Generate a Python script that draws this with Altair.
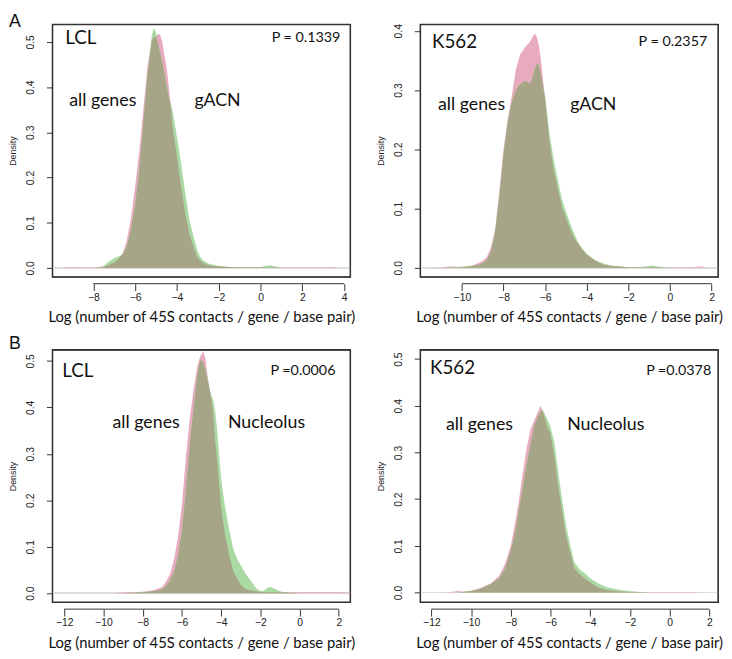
import altair as alt
import pandas as pd

# ---------------- data ----------------
A_LCL_X = [-9.6, -9.0, -8.5, -8.0, -7.6, -7.3, -7.0, -6.8, -6.6, -6.4, -6.2, -6.0, -5.8, -5.6, -5.4,
           -5.2, -5.1, -5.0, -4.9, -4.8, -4.7, -4.6, -4.5, -4.4, -4.3, -4.2, -4.0, -3.8, -3.6, -3.4,
           -3.2, -3.0, -2.8, -2.5, -2.0, -1.5, -1.0, -0.5, 0.0, 0.3, 0.5, 0.7, 1.0, 1.5, 2.0, 2.5,
           3.0, 3.5, 3.8]
A_LCL_ALL = [0.0, 0.002, 0.001, 0.001, 0.003, 0.006, 0.012, 0.02, 0.032, 0.06, 0.11, 0.18, 0.26, 0.355,
             0.45, 0.505, 0.51, 0.512, 0.518, 0.515, 0.50, 0.47, 0.445, 0.405, 0.36, 0.31, 0.245, 0.18,
             0.12, 0.075, 0.045, 0.022, 0.012, 0.006, 0.003, 0.002, 0.002, 0.001, 0.001, 0.001, 0.001,
             0.001, 0.001, 0.001, 0.001, 0.001, 0.001, 0.002, 0.0]
A_LCL_GACN = [0.0, 0.0, 0.0, 0.0, 0.001, 0.012, 0.022, 0.025, 0.03, 0.048, 0.085, 0.14, 0.22, 0.325,
              0.43, 0.515, 0.531, 0.52, 0.495, 0.475, 0.455, 0.43, 0.405, 0.38, 0.365, 0.345, 0.29,
              0.23, 0.165, 0.105, 0.068, 0.035, 0.018, 0.01, 0.004, 0.002, 0.001, 0.001, 0.002, 0.005,
              0.006, 0.003, 0.0, 0.0, 0.0, 0.0, 0.0, 0.0, 0.0]

A_K562_X = [-11.6, -11.0, -10.5, -10.0, -9.5, -9.2, -9.0, -8.8, -8.6, -8.4, -8.2, -8.0, -7.8, -7.6,
            -7.4, -7.2, -7.0, -6.9, -6.8, -6.7, -6.6, -6.5, -6.4, -6.3, -6.2, -6.0, -5.8, -5.6, -5.4,
            -5.2, -5.0, -4.8, -4.6, -4.4, -4.2, -4.0, -3.6, -3.2, -2.8, -2.4, -2.0, -1.5, -1.2, -0.9,
            -0.6, 0.0, 0.5, 1.0, 1.5, 1.8]
A_K562_ALL = [0.0, 0.001, 0.002, 0.001, 0.004, 0.008, 0.012, 0.018, 0.035, 0.065, 0.13, 0.20, 0.25,
              0.29, 0.335, 0.36, 0.37, 0.375, 0.378, 0.383, 0.39, 0.395, 0.39, 0.375, 0.35, 0.285,
              0.215, 0.168, 0.135, 0.104, 0.085, 0.065, 0.05, 0.04, 0.03, 0.022, 0.012, 0.005, 0.003,
              0.002, 0.001, 0.001, 0.001, 0.001, 0.001, 0.001, 0.001, 0.001, 0.002, 0.0]
A_K562_GACN = [0.0, 0.0, 0.001, 0.002, 0.003, 0.005, 0.008, 0.013, 0.028, 0.06, 0.12, 0.19, 0.245,
               0.28, 0.30, 0.31, 0.315, 0.315, 0.312, 0.312, 0.322, 0.335, 0.345, 0.342, 0.325, 0.29,
               0.23, 0.185, 0.15, 0.117, 0.095, 0.075, 0.058, 0.042, 0.032, 0.024, 0.013, 0.007,
               0.004, 0.002, 0.001, 0.001, 0.002, 0.004, 0.002, 0.0, 0.0, 0.0, 0.0, 0.0]

B_LCL_X = [-9.5, -9.0, -8.5, -8.0, -7.5, -7.2, -7.0, -6.8, -6.6, -6.4, -6.2, -6.0, -5.8, -5.6, -5.4,
           -5.2, -5.1, -5.0, -4.9, -4.8, -4.7, -4.6, -4.5, -4.4, -4.3, -4.2, -4.0, -3.8, -3.6, -3.4,
           -3.2, -3.0, -2.8, -2.6, -2.4, -2.2, -2.0, -1.8, -1.6, -1.5, -1.4, -1.2, -1.0, -0.8, -0.5,
           0.0, 0.5, 1.0, 1.5, 2.0, 2.5]
B_LCL_ALL = [0.0, 0.002, 0.002, 0.003, 0.006, 0.01, 0.014, 0.025, 0.042, 0.072, 0.12, 0.19, 0.29,
             0.375, 0.44, 0.49, 0.505, 0.515, 0.52, 0.505, 0.47, 0.445, 0.42, 0.385, 0.326, 0.285,
             0.186, 0.125, 0.085, 0.05, 0.032, 0.018, 0.01, 0.007, 0.005, 0.004, 0.003, 0.002, 0.002,
             0.002, 0.002, 0.002, 0.002, 0.002, 0.002, 0.002, 0.002, 0.002, 0.002, 0.002, 0.001]
B_LCL_NUC = [0.0, 0.0, 0.001, 0.002, 0.004, 0.006, 0.009, 0.016, 0.028, 0.046, 0.08, 0.135, 0.22,
             0.32, 0.40, 0.475, 0.495, 0.503, 0.495, 0.48, 0.46, 0.44, 0.425, 0.415, 0.39, 0.35,
             0.245, 0.186, 0.14, 0.098, 0.075, 0.06, 0.045, 0.033, 0.022, 0.01, 0.004, 0.006, 0.012,
             0.013, 0.012, 0.008, 0.004, 0.002, 0.001, 0.0, 0.0, 0.0, 0.0, 0.0, 0.0]

B_K562_X = [-11.5, -11.0, -10.7, -10.4, -10.0, -9.5, -9.0, -8.6, -8.3, -8.0, -7.8, -7.6, -7.4, -7.2,
            -7.0, -6.8, -6.6, -6.5, -6.4, -6.2, -6.0, -5.8, -5.6, -5.4, -5.2, -5.0, -4.8, -4.5, -4.2,
            -4.0, -3.6, -3.2, -2.8, -2.4, -2.0, -1.5, -1.0, 0.0, 1.0, 1.8]
B_K562_ALL = [0.0, 0.001, 0.003, 0.002, 0.004, 0.01, 0.02, 0.035, 0.06, 0.10, 0.145, 0.195, 0.255,
              0.31, 0.35, 0.37, 0.39, 0.40, 0.39, 0.36, 0.34, 0.29, 0.225, 0.17, 0.118, 0.085, 0.052,
              0.038, 0.028, 0.022, 0.011, 0.006, 0.003, 0.002, 0.001, 0.001, 0.001, 0.001, 0.001, 0.0]
B_K562_NUC = [0.0, 0.0, 0.0, 0.001, 0.003, 0.008, 0.018, 0.03, 0.05, 0.09, 0.125, 0.175, 0.225, 0.275,
              0.32, 0.36, 0.38, 0.388, 0.392, 0.375, 0.355, 0.32, 0.255, 0.195, 0.14, 0.10, 0.065,
              0.048, 0.039, 0.03, 0.02, 0.012, 0.008, 0.005, 0.003, 0.001, 0.0, 0.0, 0.0, 0.0]

X_TICKS_A_LCL = [-8, -6, -4, -2, 0, 2, 4]
X_TICKS_A_K562 = [-10, -8, -6, -4, -2, 0, 2]
X_TICKS_B = [-12, -10, -8, -6, -4, -2, 0, 2]
Y_TICKS_A_LCL = [0.0, 0.1, 0.2, 0.3, 0.4, 0.5]
Y_TICKS_A_K562 = [0.0, 0.1, 0.2, 0.3, 0.4]
Y_TICKS_B = [0.0, 0.1, 0.2, 0.3, 0.4, 0.5]

X_TITLE = "Log (number of 45S contacts / gene / base pair)"

# ---------------- style ----------------
PINK = "#E8AABE"
GREEN = "#AAD9A3"
OLIVE = "#A7A587"
W = 302
H_TOP, H_BOT = 256, 256
AX_OFF = 7
ANN_FONT = "Lato"
TICK_FONT = "Liberation Sans"
FRAME = "#333333"


def one(text):
    return pd.DataFrame({"t": [text]})


def panel(xs, allv, other, xdom, ydom, xticks, yticks, cell, pval, other_name,
          cell_pos, p_pos, all_pos, other_pos, letter, letter_pos, H):
    df = pd.DataFrame({"x": xs, "all": allv, "other": other})
    xsc = alt.Scale(domain=xdom, nice=False, zero=False)
    ysc = alt.Scale(domain=ydom, nice=False, zero=False)
    xax = alt.Axis(values=xticks, title=X_TITLE, offset=AX_OFF, domain=False,
                   grid=False, tickSize=7, tickColor="#333", labelPadding=2,
                   labelFont=TICK_FONT, labelFontSize=10.5, labelColor="#222",
                   titleFont=ANN_FONT, titleFontSize=15, titleFontWeight="normal",
                   titleColor="#111", titlePadding=7, labelFlush=False)
    yax = alt.Axis(values=yticks, title="Density", format=".1f", domain=False, grid=False,
                   tickSize=6, tickColor="#333", labelAngle=270, labelAlign="center",
                   labelBaseline="bottom", labelPadding=11, labelFont=TICK_FONT,
                   labelFontSize=10.5, labelColor="#222", titleFont=TICK_FONT,
                   titleFontSize=9, titleFontWeight="normal", titleColor="#222",
                   titlePadding=8, labelFlush=False)
    xenc = alt.X("x:Q", scale=xsc, axis=xax)
    base = alt.Chart(df)
    zero = base.mark_rule(color="#DDDDDD", strokeWidth=1).encode(
        y=alt.Y("z:Q", scale=ysc, axis=yax)).transform_calculate(z="0")
    pink = base.mark_area(color=PINK).encode(
        x=xenc, y=alt.Y("all:Q", scale=ysc, axis=yax))
    green = base.mark_area(color=GREEN).encode(
        x=xenc, y=alt.Y("other:Q", scale=ysc, axis=yax))
    olive = base.transform_calculate(ov="min(datum.all, datum.other)").mark_area(
        color=OLIVE).encode(x=xenc, y=alt.Y("ov:Q", scale=ysc, axis=yax))
    axline = alt.Chart(one("")).mark_rule(color="#333", strokeWidth=1).encode(
        x=alt.datum(xticks[0]), x2=alt.datum(xticks[-1]), y=alt.value(H + AX_OFF))

    box_df = pd.DataFrame({"x0": [xdom[0]], "x1": [xdom[1]], "y0": [ydom[0]], "y1": [ydom[1]]})
    frame = alt.Chart(box_df).mark_rect(
        fillOpacity=0, stroke=FRAME, strokeWidth=1.3, strokeOpacity=1, clip=False).encode(
        x=alt.X("x0:Q", scale=xsc, axis=xax), x2="x1:Q",
        y=alt.Y("y0:Q", scale=ysc, axis=yax), y2="y1:Q")

    def txt(text, pos, size, align, font=ANN_FONT, baseline="middle"):
        return alt.Chart(one(text)).mark_text(
            font=font, fontSize=size, align=align, baseline=baseline, color="#111").encode(
            x=alt.value(pos[0]), y=alt.value(pos[1]), text="t:N")

    layers = [zero, pink, green, olive, axline, frame,
              txt(cell, cell_pos, 19, "left"),
              txt(pval, p_pos, 14.5, "right"),
              txt("all genes", all_pos, 18, "left"),
              txt(other_name, other_pos, 18, "left")]
    if letter:
        layers.append(txt(letter, letter_pos, 18, "left", font="Liberation Sans",
                          baseline="alphabetic"))
    return alt.layer(*layers).properties(width=W, height=H)


p1 = panel(A_LCL_X, A_LCL_ALL, A_LCL_GACN, [-9.96, 4.29], [-0.0196, 0.539],
           X_TICKS_A_LCL, Y_TICKS_A_LCL, "LCL", "P = 0.1339", "gACN",
           (13, 14), (W - 10, 14), (17, 78), (144, 78), "A", (-44, 3), H_TOP)
p2 = panel(A_K562_X, A_K562_ALL, A_K562_GACN, [-12.0, 2.31], [-0.0152, 0.411],
           X_TICKS_A_K562, Y_TICKS_A_K562, "K562", "P = 0.2357", "gACN",
           (12, 18), (W - 11, 18), (18, 82), (152, 82), None, None, H_TOP)
p3 = panel(B_LCL_X, B_LCL_ALL, B_LCL_NUC, [-12.6, 2.58], [-0.0195, 0.524],
           X_TICKS_B, Y_TICKS_B, "LCL", "P =0.0006", "Nucleolus",
           (10, 22), (W - 15, 22), (61, 74), (178, 74), "B", (-44, -1), H_BOT)
p4 = panel(B_K562_X, B_K562_ALL, B_K562_NUC, [-12.56, 2.44], [-0.0208, 0.52],
           X_TICKS_B, Y_TICKS_B, "K562", "P =0.0378", "Nucleolus",
           (10, 19), (W - 7, 22), (26, 76), (149, 76), None, None, H_BOT)

row1 = alt.hconcat(p1, p2, spacing=20)
row2 = alt.hconcat(p3, p4, spacing=20)
chart = alt.vconcat(row1, row2, spacing=8).properties(
    padding={"left": 0, "top": 0, "right": 0, "bottom": 0}
).configure(background="white").configure_view(stroke=FRAME, strokeWidth=1.2)

chart.save("out.html", embed_options={"renderer": "svg", "actions": False})
